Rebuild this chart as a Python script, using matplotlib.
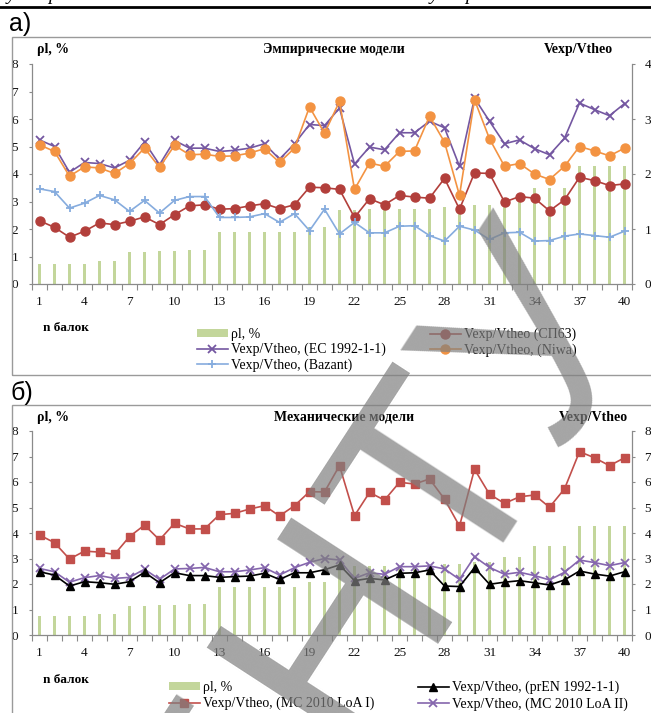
#!/usr/bin/env python3
"""
Shear strength ratio Vexp/Vtheo for the beam database:
а) empirical models, б) mechanical models, with reinforcement ratio bars.
"""

import numpy as np
import matplotlib
matplotlib.use('Agg')
import matplotlib.pyplot as plt
from matplotlib.lines import Line2D
from matplotlib.patches import Rectangle

W, H = 651, 713
SERIF = 'Liberation Serif'
SANS = 'Liberation Sans'

GRID = '#8a8a8a'
FRAME = '#9a9a9a'
BAR_GREEN = '#c3d69b'

beams = np.arange(1, 41)
tick_beams = beams[::3]

# reinforcement ratio, %
rho_l = [0.74, 0.74, 0.74, 0.74, 0.82, 0.82, 1.15, 1.15, 1.19, 1.19,
         1.22, 1.22, 1.88, 1.88, 1.88, 1.88, 1.90, 1.90, 2.07, 2.07,
         2.70, 2.70, 2.72, 2.72, 2.72, 2.72, 2.74, 2.79, 2.79, 2.86,
         2.86, 3.05, 3.05, 3.48, 3.48, 3.48, 4.28, 4.28, 4.28, 4.28]

# empirical models
v_sp63 = [1.15, 1.03, 0.85, 0.96, 1.11, 1.08, 1.14, 1.22, 1.08, 1.26,
          1.42, 1.44, 1.36, 1.37, 1.42, 1.46, 1.37, 1.44, 1.76, 1.75,
          1.72, 1.21, 1.55, 1.44, 1.61, 1.58, 1.56, 1.92, 1.36, 2.02,
          2.01, 1.49, 1.59, 1.56, 1.33, 1.53, 1.94, 1.88, 1.79, 1.82]
v_ec = [2.62, 2.50, 2.03, 2.21, 2.19, 2.11, 2.25, 2.58, 2.17, 2.61,
        2.47, 2.47, 2.41, 2.43, 2.47, 2.55, 2.27, 2.55, 2.90, 2.88,
        3.20, 2.18, 2.49, 2.44, 2.75, 2.75, 2.96, 2.84, 2.14, 3.38,
        2.96, 2.55, 2.62, 2.46, 2.35, 2.65, 3.29, 3.17, 3.06, 3.28]
v_niwa = [2.53, 2.41, 1.96, 2.13, 2.11, 2.01, 2.19, 2.47, 2.12, 2.52,
          2.35, 2.36, 2.32, 2.33, 2.38, 2.46, 2.21, 2.47, 3.22, 2.74,
          3.32, 1.72, 2.20, 2.14, 2.41, 2.42, 3.05, 2.58, 1.61, 3.35,
          2.64, 2.14, 2.19, 2.00, 1.90, 2.14, 2.50, 2.42, 2.33, 2.47]
v_bazant = [1.73, 1.68, 1.38, 1.47, 1.61, 1.53, 1.32, 1.52, 1.29, 1.52,
            1.59, 1.59, 1.21, 1.21, 1.22, 1.28, 1.12, 1.28, 0.97, 1.36,
            0.91, 1.12, 0.93, 0.93, 1.05, 1.06, 0.88, 0.78, 1.05, 0.98,
            0.81, 0.93, 0.94, 0.78, 0.79, 0.87, 0.91, 0.88, 0.85, 0.96]

# mechanical models
v_pren = [2.48, 2.35, 1.92, 2.09, 2.05, 1.99, 2.09, 2.46, 2.05, 2.44,
          2.33, 2.33, 2.26, 2.29, 2.31, 2.42, 2.18, 2.44, 2.44, 2.56,
          2.75, 2.13, 2.22, 2.16, 2.42, 2.44, 2.55, 1.92, 1.90, 2.64,
          1.99, 2.07, 2.13, 2.05, 1.96, 2.16, 2.51, 2.39, 2.31, 2.48]
v_mc_loa1 = [3.92, 3.62, 2.98, 3.29, 3.25, 3.16, 3.86, 4.31, 3.73, 4.38,
             4.16, 4.16, 4.72, 4.77, 4.94, 5.07, 4.67, 5.07, 5.62, 5.61,
             6.64, 4.68, 5.59, 5.29, 5.99, 5.92, 6.12, 5.33, 4.27, 6.50,
             5.52, 5.16, 5.42, 5.49, 5.01, 5.73, 7.19, 6.95, 6.64, 6.95]
v_mc_loa2 = [2.61, 2.48, 2.07, 2.25, 2.33, 2.22, 2.26, 2.58, 2.18, 2.59,
             2.61, 2.65, 2.48, 2.48, 2.55, 2.64, 2.35, 2.64, 2.85, 3.00,
             2.94, 2.22, 2.44, 2.38, 2.68, 2.68, 2.71, 2.59, 2.18, 3.07,
             2.65, 2.38, 2.46, 2.33, 2.16, 2.46, 2.94, 2.84, 2.72, 2.84]


def fx(x):
    return x / W


def fy(y):
    return 1 - y / H


def setup_axes(fig, top, bottom, grid_step, right_max):
    ax = fig.add_axes([fx(32), fy(bottom), fx(632) - fx(32), (bottom - top) / H])
    ax2 = ax.twinx()

    bars = ax.bar(beams, rho_l, width=0.26, color=BAR_GREEN, zorder=2)

    ax.set_xlim(0.5, 40.5)
    ax.set_ylim(0, 8)
    ax2.set_ylim(0, right_max)

    ax.spines['top'].set_visible(False)
    for side in ('left', 'right', 'bottom'):
        ax.spines[side].set_color(GRID)
        ax.spines[side].set_linewidth(0.9)
    for side in ax2.spines:
        ax2.spines[side].set_visible(False)

    # category boundaries get tick marks, every third beam gets a label
    ax.set_xticks(np.arange(0.5, 41, 1))
    ax.set_xticklabels([])
    ax.tick_params(axis='x', which='major', length=4, color=GRID, direction='out')
    ax.set_xticks(tick_beams, labels=[str(b) for b in tick_beams], minor=True)
    ax.tick_params(axis='x', which='minor', length=0, pad=8.5,
                   labelsize=9.5, labelcolor='#111111')

    ax.set_yticks(range(9))
    ax.tick_params(axis='y', which='major', length=2.5, color=GRID, pad=7.5,
                   labelsize=9.5, labelcolor='#111111')
    ax.set_yticks(np.arange(0, 9, grid_step), minor=True)
    ax.tick_params(axis='y', which='minor', length=0)
    ax.grid(which='minor', axis='y', color=GRID, linewidth=1.0)
    ax.set_axisbelow(True)

    ax2.set_yticks(range(right_max + 1))
    ax2.tick_params(axis='y', length=2.5, color=GRID, pad=6.5,
                    labelsize=9.5, labelcolor='#111111')

    for label in ax.get_xticklabels(minor=True) + ax.get_yticklabels() + ax2.get_yticklabels():
        label.set_fontfamily(SERIF)

    return ax, ax2, bars


def add_legend(fig, handles, labels, x, y, spacing=0.14):
    leg = fig.legend(handles, labels, loc='upper left', bbox_to_anchor=(fx(x), fy(y)),
                     frameon=False, prop={'family': SERIF, 'size': 10},
                     handlelength=2.2, handleheight=0.55, handletextpad=0.25,
                     labelspacing=spacing, borderpad=0, borderaxespad=0, numpoints=1)
    return leg


def header(fig, y, title, title_x, right_x):
    bold = dict(family=SERIF, fontweight='bold', fontsize=10, va='center')
    fig.text(fx(37), fy(y), 'ρl, %', ha='left', **bold)
    fig.text(fx(title_x), fy(y), title, ha='center', **bold)
    fig.text(fx(right_x), fy(y), 'Vexp/Vtheo', ha='center', **bold)


def main():
    fig = plt.figure(figsize=(W / 100, H / 100), dpi=100)

    # page rule and the clipped line of text above it
    fig.add_artist(Line2D([0, 1], [fy(6.5)] * 2, transform=fig.transFigure,
                          color='black', linewidth=2.0))
    for x, ch in ((7, 'у'), (48, 'р'), (430, 'у'), (465, 'р')):
        fig.text(fx(x), 1.0, ch, family=SERIF, fontstyle='italic', fontsize=14,
                 va='baseline', ha='left')

    # chart frames
    fig.add_artist(Rectangle((fx(11.5), fy(375)), 1.0, (375 - 37) / H,
                             transform=fig.transFigure, fill=False,
                             edgecolor=FRAME, linewidth=1.0))
    fig.add_artist(Rectangle((fx(11.5), fy(760)), 1.0, (760 - 405) / H,
                             transform=fig.transFigure, fill=False,
                             edgecolor=FRAME, linewidth=1.0))

    fig.text(fx(9), fy(24), 'а)', family=SANS, fontsize=18, ha='left', va='center')
    fig.text(fx(10), fy(393), 'б)', family=SANS, fontsize=18, ha='left', va='center')

    # а) empirical models
    ax, ax2, bars = setup_axes(fig, 64, 284, 2, 4)
    l_sp63, = ax2.plot(beams, v_sp63, color='#b23f3b', marker='o', ms=6.5,
                       lw=1.2, zorder=3)
    l_ec, = ax2.plot(beams, v_ec, color='#7457a1', marker='x', ms=5.5, mew=1.3,
                     lw=1.2, zorder=3)
    l_niwa, = ax2.plot(beams, v_niwa, color='#f39342', marker='o', ms=6.5,
                       lw=1.2, zorder=3)
    l_bazant, = ax2.plot(beams, v_bazant, color='#86acde', marker='+', ms=6, mew=1.3,
                         lw=1.2, zorder=3)
    header(fig, 50, 'Эмпирические модели', 334, 578)
    fig.text(fx(43), fy(328), 'n балок', family=SERIF, fontweight='bold',
             fontsize=9.5, ha='left', va='center')
    add_legend(fig, [bars, l_ec, l_bazant],
               ['ρl, %', 'Vexp/Vtheo, (EC 1992-1-1)', 'Vexp/Vtheo, (Bazant)'], 197, 328)
    add_legend(fig, [l_sp63, l_niwa],
               ['Vexp/Vtheo (СП63)', 'Vexp/Vtheo, (Niwa)'], 430, 328)

    # б) mechanical models
    bx, bx2, bars_b = setup_axes(fig, 431, 635, 1, 8)
    l_loa1, = bx2.plot(beams, v_mc_loa1, color='#c24f4b', marker='s', ms=6,
                       lw=1.2, zorder=3)
    l_loa2, = bx2.plot(beams, v_mc_loa2, color='#8566ad', marker='x', ms=5.5, mew=1.3,
                       lw=1.2, zorder=3)
    l_pren, = bx2.plot(beams, v_pren, color='black', marker='^', ms=6,
                       lw=1.2, zorder=4)
    header(fig, 417, 'Механические модели', 344, 593)
    fig.text(fx(43), fy(680), 'n балок', family=SERIF, fontweight='bold',
             fontsize=9.5, ha='left', va='center')
    add_legend(fig, [bars_b, l_loa1],
               ['ρl, %', 'Vexp/Vtheo, (MC 2010 LoA I)'], 169, 681, spacing=0.2)
    add_legend(fig, [l_pren, l_loa2],
               ['Vexp/Vtheo, (prEN 1992-1-1)', 'Vexp/Vtheo, (MC 2010 LoA II)'], 418, 681,
               spacing=0.2)

    # repository stamp across the page
    fig.text(fx(385), fy(560), 'БНТУ', family=SANS, fontsize=200, color='#7f7f7f',
             alpha=0.7, rotation=57, rotation_mode='anchor', ha='center', va='center',
             zorder=10)

    fig.savefig('out.png', dpi=100)
    plt.close(fig)


if __name__ == '__main__':
    main()
